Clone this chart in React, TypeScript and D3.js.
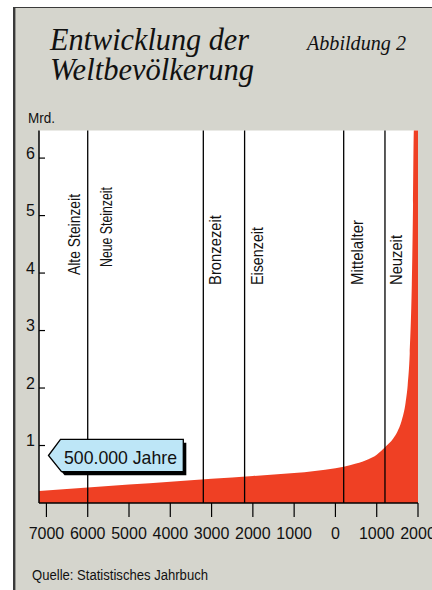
import React from "react";
import * as d3 from "d3";

// World population (billions) over time; negative years are BC.
const popYears = [-7180, -6000, -5000, -4000, -3000, -2000, -1000, 0, 200, 500, 800, 1000, 1200, 1400, 1500, 1600, 1700, 1750, 1800, 1850, 1880, 1900, 2000];
const popBillions = [0.21, 0.27, 0.32, 0.37, 0.42, 0.47, 0.52, 0.605, 0.63, 0.685, 0.76, 0.84, 0.97, 1.12, 1.24, 1.42, 1.75, 2.05, 2.6, 3.8, 5.2, 6.48, 6.48];

// Epochs and the year each one begins
const eraNames = ["Alte Steinzeit", "Neue Steinzeit", "Bronzezeit", "Eisenzeit", "Mittelalter", "Neuzeit"];
const eraStarts = [-7180, -6000, -3200, -2200, 200, 1200];

const xTickValues = [-7000, -6000, -5000, -4000, -3000, -2000, -1000, 0, 1000, 2000];
const xTickLabels = ["7000", "6000", "5000", "4000", "3000", "2000", "1000", "0", "1000", "2000"];
const yTickValues = [1, 2, 3, 4, 5, 6];

const titleLines = ["Entwicklung der", "Weltbevölkerung"];
const figureLabel = "Abbildung 2";
const unitLabel = "Mrd.";
const sourceLabel = "Quelle: Statistisches Jahrbuch";
const calloutLabel = "500.000 Jahre";

// Label placement for the rotated epoch names: baseline x, start y, length
const eraLabelLayout = [
  { x: 80, y: 275, len: 81 },
  { x: 111.5, y: 267, len: 80 },
  { x: 221, y: 285, len: 70 },
  { x: 263, y: 285, len: 58 },
  { x: 363, y: 285, len: 65 },
  { x: 402, y: 285, len: 50 },
];

const W = 432;
const H = 590;
const plot = { left: 39, right: 418, top: 130.5, bottom: 503 };

const SANS = "'Liberation Sans', Arial, Helvetica, sans-serif";
const SERIF = "'Liberation Serif', 'Times New Roman', serif";
const RED = "#ef4024";
const PANEL = "#d5d5cd";

export default function App() {
  const x = d3.scaleLinear().domain([-7180, 2000]).range([plot.left, plot.right]);
  const y = d3.scaleLinear().domain([0, 6.48]).range([plot.bottom, plot.top]);

  const series = popYears.map((yr, i) => ({ yr, v: popBillions[i] }));
  const area = d3
    .area<{ yr: number; v: number }>()
    .x((d) => x(d.yr))
    .y0(y(0))
    .y1((d) => y(d.v))
    .curve(d3.curveMonotoneX);

  // Callout tag pointing left
  const tag = [
    [48.5, 455.5],
    [60.5, 439.3],
    [183.3, 439.3],
    [183.3, 471.7],
    [61.5, 471.7],
  ];
  const tagPath = d3.line()(tag as [number, number][]) + "Z";

  return (
    <div style={{ position: "absolute", left: 0, top: 0 }}>
      <svg width={W} height={H} viewBox={`0 0 ${W} ${H}`} style={{ display: "block", background: "#fff" }}>
        {/* panel */}
        <rect x={13} y={7} width={W - 13} height={H - 7} fill={PANEL} />
        <line x1={13} y1={7.5} x2={W} y2={7.5} stroke="#3a3a3a" strokeWidth={1.2} />
        <line x1={14.2} y1={7} x2={14.2} y2={H} stroke="#3a3a3a" strokeWidth={2.4} />

        {/* title */}
        <g fontFamily={SERIF} fontStyle="italic" fill="#111">
          <text x={50} y={50} fontSize={31} textLength={199} lengthAdjust="spacingAndGlyphs">{titleLines[0]}</text>
          <text x={50} y={80} fontSize={31} textLength={204} lengthAdjust="spacingAndGlyphs">{titleLines[1]}</text>
          <text x={307} y={50} fontSize={21} textLength={99} lengthAdjust="spacingAndGlyphs">{figureLabel}</text>
        </g>

        <text x={28} y={123} fontFamily={SANS} fontSize={15.5} textLength={27} lengthAdjust="spacingAndGlyphs" fill="#111">
          {unitLabel}
        </text>

        {/* plot background */}
        <rect x={plot.left} y={plot.top} width={plot.right - plot.left} height={plot.bottom - plot.top} fill="#fff" />

        {/* population area */}
        <path d={area(series) || ""} fill={RED} />

        {/* epoch boundaries */}
        {eraStarts.slice(1).map((yr, i) => (
          <line key={"era" + i} x1={x(yr)} x2={x(yr)} y1={plot.top} y2={plot.bottom} stroke="#000" strokeWidth={1.3} />
        ))}

        {/* epoch names */}
        <g fontFamily={SANS} fontSize={16.5} fill="#111">
          {eraNames.map((name, i) => {
            const l = eraLabelLayout[i];
            return (
              <text
                key={name}
                transform={`translate(${l.x},${l.y}) rotate(-90)`}
                textLength={l.len}
                lengthAdjust="spacingAndGlyphs"
              >
                {name}
              </text>
            );
          })}
        </g>

        {/* axes */}
        <line x1={plot.left} x2={plot.left} y1={plot.top} y2={plot.bottom} stroke="#000" strokeWidth={1.5} />
        <line x1={plot.left} x2={plot.right} y1={plot.bottom} y2={plot.bottom} stroke="#000" strokeWidth={1.5} />

        {yTickValues.map((v) => (
          <g key={"y" + v}>
            <line x1={plot.left} x2={plot.left + 6} y1={y(v)} y2={y(v)} stroke="#000" strokeWidth={1.2} />
            <text x={35} y={y(v) + 0.5} textAnchor="end" fontFamily={SANS} fontSize={16} fill="#111">
              {v}
            </text>
          </g>
        ))}

        {xTickValues.map((v, i) => (
          <g key={"x" + i}>
            <line x1={x(v)} x2={x(v)} y1={plot.bottom} y2={plot.bottom + 14} stroke="#000" strokeWidth={1.2} />
            <text x={x(v)} y={538.5} textAnchor="middle" fontFamily={SANS} fontSize={16} fill="#111">
              {xTickLabels[i]}
            </text>
          </g>
        ))}

        {/* callout */}
        <path d={tagPath} transform="translate(3,3.5)" fill="#000" />
        <path d={tagPath} fill="#bde6f7" stroke="#000" strokeWidth={1.3} />
        <text x={64} y={464} fontFamily={SANS} fontSize={19} textLength={113} lengthAdjust="spacingAndGlyphs" fill="#111">
          {calloutLabel}
        </text>

        {/* source */}
        <text x={32} y={580} fontFamily={SANS} fontSize={15.5} textLength={176} lengthAdjust="spacingAndGlyphs" fill="#111">
          {sourceLabel}
        </text>
      </svg>
    </div>
  );
}
